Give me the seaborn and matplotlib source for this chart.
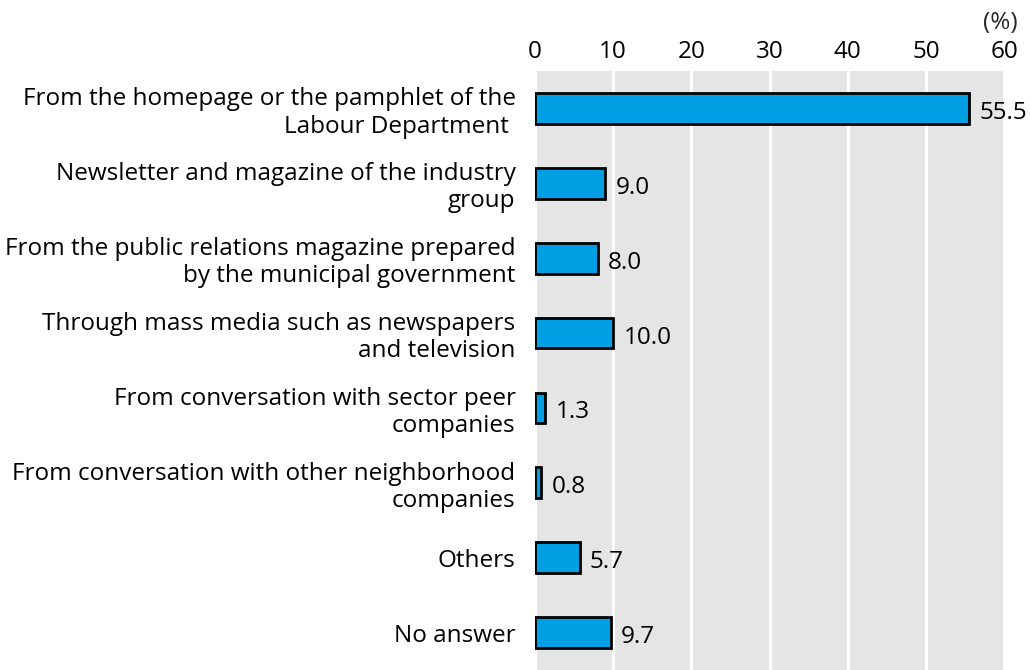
import matplotlib
matplotlib.use("Agg")
import matplotlib.pyplot as plt
import seaborn as sns
import pandas as pd

categories = [
    "From the homepage or the pamphlet of the\nLabour Department ",
    "Newsletter and magazine of the industry\ngroup",
    "From the public relations magazine prepared\nby the municipal government",
    "Through mass media such as newspapers\nand television",
    "From conversation with sector peer\ncompanies",
    "From conversation with other neighborhood\ncompanies",
    "Others",
    "No answer",
]
values = [55.5, 9.0, 8.0, 10.0, 1.3, 0.8, 5.7, 9.7]
x_ticks = [0, 10, 20, 30, 40, 50, 60]

df = pd.DataFrame({"source": categories, "pct": values})

sns.set_theme(style="white")
plt.rcParams["font.family"] = ["Open Sans", "DejaVu Sans"]

FS = 17.5

fig = plt.figure(figsize=(10.3, 6.7), dpi=100)
ax = fig.add_axes([0.5194, 0.0, 0.4554, 0.894])
ax.set_facecolor("#e5e5e5")

sns.barplot(data=df, x="pct", y="source", orient="h", color="#009fe3",
            saturation=1, width=0.41, edgecolor="black", linewidth=2,
            ax=ax, zorder=3)

ax.set_xlim(0, 60)
ax.set_ylim(7.5, -0.5)
ax.set_xticks(x_ticks)
ax.set_xticklabels([str(t) for t in x_ticks])
ax.xaxis.tick_top()
ax.tick_params(axis="x", length=0, pad=5, labelsize=FS, colors="black")
ax.tick_params(axis="y", length=0, pad=14, labelsize=FS, colors="black")
for lbl in ax.get_yticklabels():
    lbl.set_horizontalalignment("right")
    lbl.set_multialignment("right")
    lbl.set_linespacing(1.17)

ax.grid(axis="x", color="white", linewidth=2.2, zorder=1)
ax.grid(axis="y", visible=False)
ax.set_axisbelow(True)
for s in ax.spines.values():
    s.set_visible(False)
ax.set_xlabel("")
ax.set_ylabel("")

for i, v in enumerate(values):
    ax.text(v + 1.3, i + 0.06, f"{v:.1f}", va="center", ha="left",
            fontsize=FS, color="black")

fig.text(0.971, 0.965, "(%)", ha="center", va="center", fontsize=FS)

fig.savefig("out.png", dpi=100)
